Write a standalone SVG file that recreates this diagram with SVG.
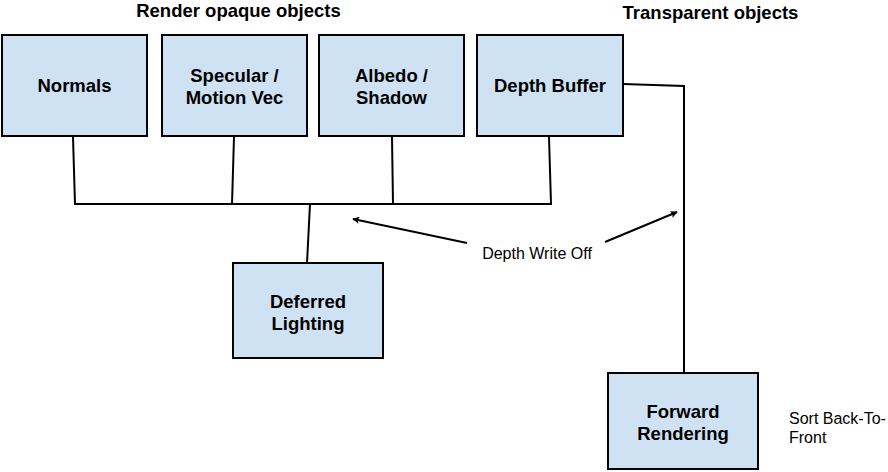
<svg xmlns="http://www.w3.org/2000/svg" width="888" height="472" viewBox="0 0 888 472">
<defs>
<style>
.box{fill:#cfe2f3;stroke:#000;stroke-width:2}
.lbl{font-family:"Liberation Sans",Arial,sans-serif;font-weight:bold;font-size:18.5px;fill:#000;text-anchor:middle}
.note{font-family:"Liberation Sans",Arial,sans-serif;font-size:16px;fill:#000}
.ln{fill:none;stroke:#000;stroke-width:2}
</style>
<marker id="ah" viewBox="0 0 10 10" refX="9" refY="5" markerWidth="8" markerHeight="7" orient="auto" markerUnits="userSpaceOnUse">
<path d="M0,0 L10,5 L0,10 L2,5 z" fill="#000"/>
</marker>
</defs>
<rect width="888" height="472" fill="#fff"/>
<g id="titles">
<text class="lbl" x="238.5" y="17">Render opaque objects</text>
<text class="lbl" x="710.5" y="19">Transparent objects</text>
</g>
<g id="connectors">
<path class="ln" d="M73,137 L75,204 M234,137 L232,204 M392,137 L393,204 M549,137 L551,204 M74,204 L552,204 M310,204 L307,263"/>
<path class="ln" d="M623,84 L684,86 L684,373"/>
<path class="ln" d="M467,243 L353,219" marker-end="url(#ah)"/>
<path class="ln" d="M605,242 L677,212" marker-end="url(#ah)"/>
</g>
<g id="normals">
<rect class="box" x="2" y="35" width="145" height="101"/>
<text class="lbl" x="74.5" y="92">Normals</text>
</g>
<g id="specular">
<rect class="box" x="162" y="35" width="145" height="101"/>
<text class="lbl" x="234.5" y="82">Specular /</text>
<text class="lbl" x="234.5" y="104">Motion Vec</text>
</g>
<g id="albedo">
<rect class="box" x="319" y="35" width="145" height="101"/>
<text class="lbl" x="391.5" y="82">Albedo /</text>
<text class="lbl" x="391.5" y="104">Shadow</text>
</g>
<g id="depth">
<rect class="box" x="477" y="35" width="146" height="101"/>
<text class="lbl" x="550" y="92">Depth Buffer</text>
</g>
<g id="deferred">
<rect class="box" x="233" y="263" width="150" height="95"/>
<text class="lbl" x="308" y="308">Deferred</text>
<text class="lbl" x="308" y="330">Lighting</text>
</g>
<g id="forward">
<rect class="box" x="608" y="373" width="150" height="96"/>
<text class="lbl" x="683" y="418">Forward</text>
<text class="lbl" x="683" y="440">Rendering</text>
</g>
<g id="notes">
<text class="note" x="537" y="259" text-anchor="middle">Depth Write Off</text>
<text class="note" x="789" y="424">Sort Back-To-</text>
<text class="note" x="789" y="443">Front</text>
</g>
</svg>
